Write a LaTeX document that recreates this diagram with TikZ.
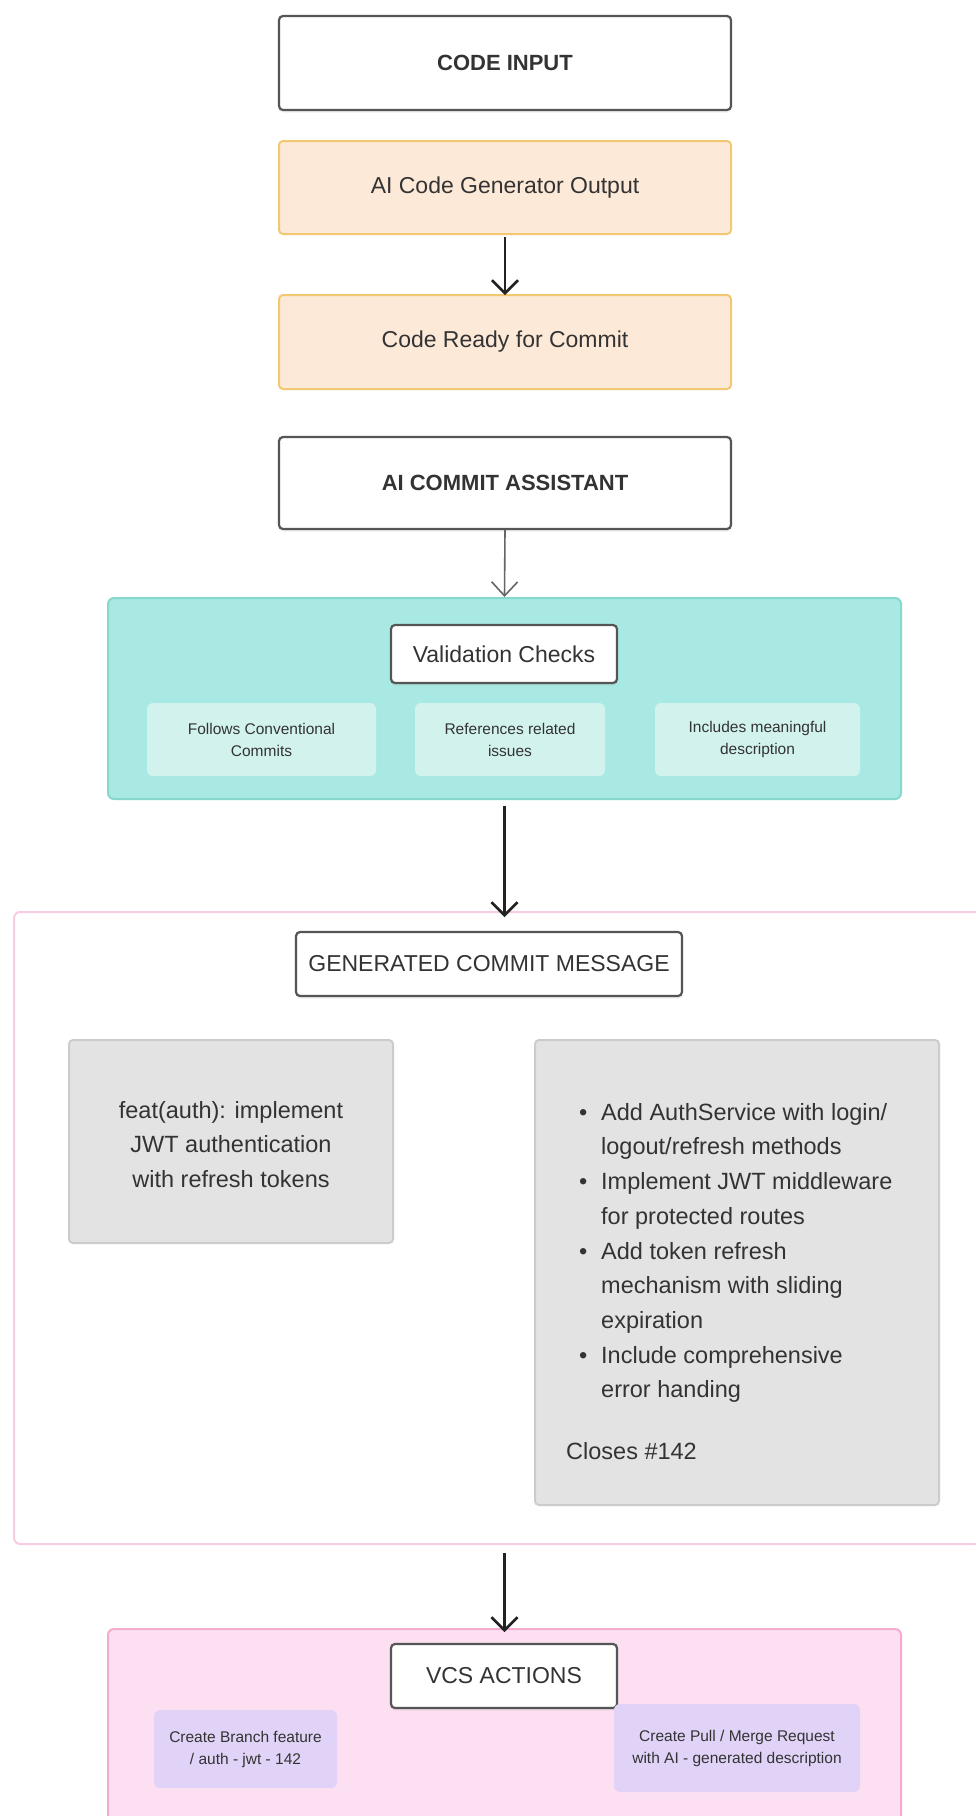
\documentclass[tikz,border=0pt]{standalone}
\usepackage{fontspec}
\setmainfont{Liberation Sans}
\usetikzlibrary{arrows.meta,shadows}
\definecolor{txt}{HTML}{333333}
\definecolor{darkb}{HTML}{555555}
\definecolor{orfill}{HTML}{FDE9D8}
\definecolor{ordraw}{HTML}{F3C873}
\definecolor{tealfill}{HTML}{A9E9E3}
\definecolor{tealdraw}{HTML}{86D8CF}
\definecolor{tealsub}{HTML}{D2F2EE}
\definecolor{pinkline}{HTML}{F8CCE2}
\definecolor{greyfill}{HTML}{E3E3E3}
\definecolor{greydraw}{HTML}{CCCCCC}
\definecolor{vcsfill}{HTML}{FCE0F2}
\definecolor{vcsdraw}{HTML}{F3ACCF}
\definecolor{purp}{HTML}{E0D3F7}
\definecolor{arrdark}{HTML}{222222}
\definecolor{arrgrey}{HTML}{666666}
\tikzset{
  softshadow/.style={drop shadow={opacity=0.12, shadow xshift=0pt, shadow yshift=-2.5pt}},
  whitebox/.style={draw=darkb, line width=2.2pt, fill=white, rounded corners=4pt, text=txt, align=center, inner sep=0pt, softshadow},
  orbox/.style={draw=ordraw, line width=2pt, fill=orfill, rounded corners=4pt, text=txt, align=center, inner sep=0pt},
  container/.style={rounded corners=6pt, line width=2pt},
  subbox/.style={fill=tealsub, rounded corners=6pt, text=txt, align=center, inner sep=0pt},
  greybox/.style={draw=greydraw, line width=2pt, fill=greyfill, rounded corners=4pt, text=txt, inner sep=0pt},
  purpbox/.style={fill=purp, rounded corners=6pt, text=txt, align=center, inner sep=0pt},
  bigtxt/.style={font=\fontsize{23}{34}\selectfont},
  boldtxt/.style={font=\fontsize{22}{30}\selectfont\bfseries},
  smalltxt/.style={font=\fontsize{15.5}{22}\selectfont},
  darrow/.style={draw=arrdark, line width=2.6pt, -{Straight Barb[length=13pt,width=26pt,line width=2.6pt]}},
  garrow/.style={draw=arrgrey, line width=1.6pt, -{Straight Barb[length=14pt,width=26pt,line width=1.6pt]}}
}
\begin{document}
\begin{tikzpicture}[x=1pt,y=-1pt]
\useasboundingbox (0,0) rectangle (975,1816);
\fill[white] (0,0) rectangle (975,1816);

% top chain
\node[whitebox, boldtxt, minimum width=452pt, minimum height=94pt] (code) at (505,63) {CODE INPUT};
\node[orbox, bigtxt, minimum width=452pt, minimum height=93pt] (gen) at (505,187.5) {AI Code Generator Output};
\node[orbox, bigtxt, minimum width=452pt, minimum height=94pt] (ready) at (505,342) {Code Ready for Commit};
\node[whitebox, boldtxt, minimum width=452pt, minimum height=92pt] (assist) at (505,483) {AI COMMIT ASSISTANT};

% validation container
\node[container, draw=tealdraw, fill=tealfill, minimum width=793pt, minimum height=201pt, inner sep=0pt] (valc) at (504.5,698.5) {};
\node[whitebox, bigtxt, minimum width=226pt, minimum height=58pt] (valt) at (504,654) {Validation Checks};
\node[subbox, smalltxt, minimum width=229pt, minimum height=73pt] (v1) at (261.5,739.5) {Follows Conventional\\Commits};
\node[subbox, smalltxt, minimum width=190pt, minimum height=73pt] (v2) at (510,739.5) {References related\\issues};
\node[subbox, smalltxt, minimum width=205pt, minimum height=73pt] (v3) at (757.5,739.5) {Includes meaningful\\description};

% generated commit message container
\node[container, draw=pinkline, fill=white, minimum width=990pt, minimum height=632pt, inner sep=0pt] (genc) at (509,1228) {};
\node[whitebox, bigtxt, minimum width=386pt, minimum height=64pt] (gent) at (489,964) {GENERATED COMMIT MESSAGE};
\node[greybox, minimum width=324pt, minimum height=203pt] (subj) at (231,1141.5) {};
\node[txt, align=center, font=\fontsize{23.5}{34.5}\selectfont] (subjt) at ([yshift=-3pt]subj.center) {feat(auth): implement\\JWT authentication\\with refresh tokens};
\node[greybox, minimum width=404pt, minimum height=465pt] (body) at (737,1272.5) {};
\node[txt, anchor=north west, align=left, inner sep=0pt, font=\fontsize{23.5}{34.7}\selectfont] (bodyt) at (566,1103) {%
\makebox[35pt][l]{\hspace{13pt}\textbullet}Add AuthService with login/\\
\hspace{35pt}logout/refresh methods\\
\makebox[35pt][l]{\hspace{13pt}\textbullet}Implement JWT middleware\\
\hspace{35pt}for protected routes\\
\makebox[35pt][l]{\hspace{13pt}\textbullet}Add token refresh\\
\hspace{35pt}mechanism with sliding\\
\hspace{35pt}expiration\\
\makebox[35pt][l]{\hspace{13pt}\textbullet}Include comprehensive\\
\hspace{35pt}error handing\\[27pt]
Closes \#142};

% VCS container
\node[container, draw=vcsdraw, fill=vcsfill, minimum width=793pt, minimum height=210pt, inner sep=0pt] (vcsc) at (504.5,1734) {};
\node[whitebox, bigtxt, minimum width=226pt, minimum height=64pt] (vcst) at (504,1676) {VCS ACTIONS};
\node[purpbox, smalltxt, minimum width=183pt, minimum height=78pt] (br) at (245.5,1749) {Create Branch feature\\/ auth - jwt - 142};
\node[purpbox, smalltxt, minimum width=246pt, minimum height=88pt] (pr) at (737,1748) {Create Pull / Merge Request\\with AI - generated description};

% connectors
\draw[darrow] ([yshift=-2pt]gen.south) -- ([yshift=-1pt]ready.north);
\draw[garrow] (assist.south) -- (valc.north);
\draw[darrow] ([yshift=-6pt]valc.south) -- ([yshift=-6pt]genc.north -| valc.south);
\draw[darrow] ([yshift=-8pt]genc.south -| valc.south) -- ([yshift=-4pt]vcsc.north);
\end{tikzpicture}
\end{document}
